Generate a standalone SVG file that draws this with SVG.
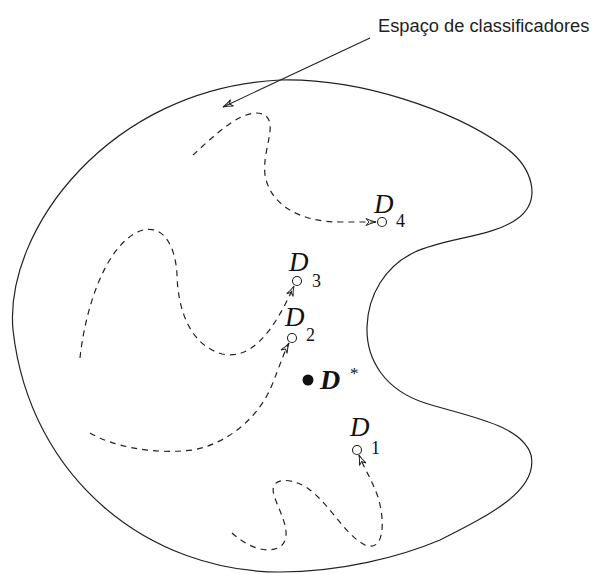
<svg xmlns="http://www.w3.org/2000/svg" width="597" height="574" viewBox="0 0 597 574">
<style>
.outline{fill:none;stroke:#222;stroke-width:1.2}
.path{fill:none;stroke:#222;stroke-width:1.2;stroke-dasharray:6 5}
.pt{fill:#fff;stroke:#222;stroke-width:1.1}
.m{font-family:"Liberation Serif","Times New Roman",serif;fill:#111}
.D{font-size:27px;font-style:italic}
.sub{font-size:18px}
.lbl{font-family:"Liberation Sans",Arial,sans-serif;font-size:18.3px;fill:#222}
</style>
<defs>
<marker id="ah" markerWidth="14" markerHeight="10" refX="0" refY="0" viewBox="-11 -5 14 10" orient="auto" markerUnits="userSpaceOnUse">
<path d="M -10 -3.5 Q -5 -1 0 0 Q -5 1 -10 3.5 M -10 -3.5 L -7 0 L -10 3.5" fill="none" stroke="#222" stroke-width="1"/>
</marker>
</defs>
<g id="space">
<path class="outline" d="M 280 80 C 360 78, 452 110, 502 145 C 533 166, 543 200, 517 219 C 492 237, 445 238, 415 252 C 385 266, 368 295, 367 327 C 366 360, 385 390, 425 403 C 470 417, 522 425, 531 455 C 539 490, 490 515, 440 540 C 400 557, 340 572, 280 572 C 150 572, 30 480, 13 330 C 4 230, 110 88, 280 80 Z"/>
</g>
<g id="label">
<text class="lbl" x="378" y="32">Espaço de classificadores</text>
</g>
<g id="connectors">
<line x1="370" y1="38" x2="223" y2="107" stroke="#222" stroke-width="1.1" marker-end="url(#ah)"/>
<path class="path" d="M 193 155 C 215 135, 245 105, 265 115 C 278 125, 262 150, 265 175 C 270 205, 300 222, 340 222 L 376 222" marker-end="url(#ah)"/>
<path class="path" d="M 80 358 C 85 310, 105 245, 140 231 C 165 222, 176 250, 177 275 C 178 310, 190 345, 222 354 C 250 360, 272 335, 294 286" marker-end="url(#ah)"/>
<path class="path" d="M 90 433 C 110 445, 150 455, 193 450 C 230 443, 260 415, 272 385 C 280 365, 285 350, 289 343" marker-end="url(#ah)"/>
<path class="path" d="M 232 533 C 245 545, 265 555, 280 547 C 295 535, 278 510, 274 495 C 268 475, 295 478, 310 490 C 330 505, 345 535, 365 545 C 385 553, 385 520, 378 497 C 372 480, 365 470, 359 455" marker-end="url(#ah)"/>
</g>
<g id="D4">
<circle class="pt" cx="382" cy="222" r="4.5"/>
<text class="m D" x="374" y="213">D</text>
<text class="m sub" x="396" y="227">4</text>
</g>
<g id="D3">
<circle class="pt" cx="297" cy="281" r="4.5"/>
<text class="m D" x="289" y="271">D</text>
<text class="m sub" x="312" y="287">3</text>
</g>
<g id="D2">
<circle class="pt" cx="292" cy="338" r="4.5"/>
<text class="m D" x="285" y="326">D</text>
<text class="m sub" x="306" y="341">2</text>
</g>
<g id="D1">
<circle class="pt" cx="357" cy="450" r="4.5"/>
<text class="m D" x="350" y="436">D</text>
<text class="m sub" x="371" y="454">1</text>
</g>
<g id="Dstar">
<circle cx="308" cy="380" r="5.5" fill="#111"/>
<text class="m" x="320" y="389" font-size="28" font-weight="bold" font-style="italic">D</text>
<text class="m" x="350" y="379" font-size="17">*</text>
</g>
</svg>
